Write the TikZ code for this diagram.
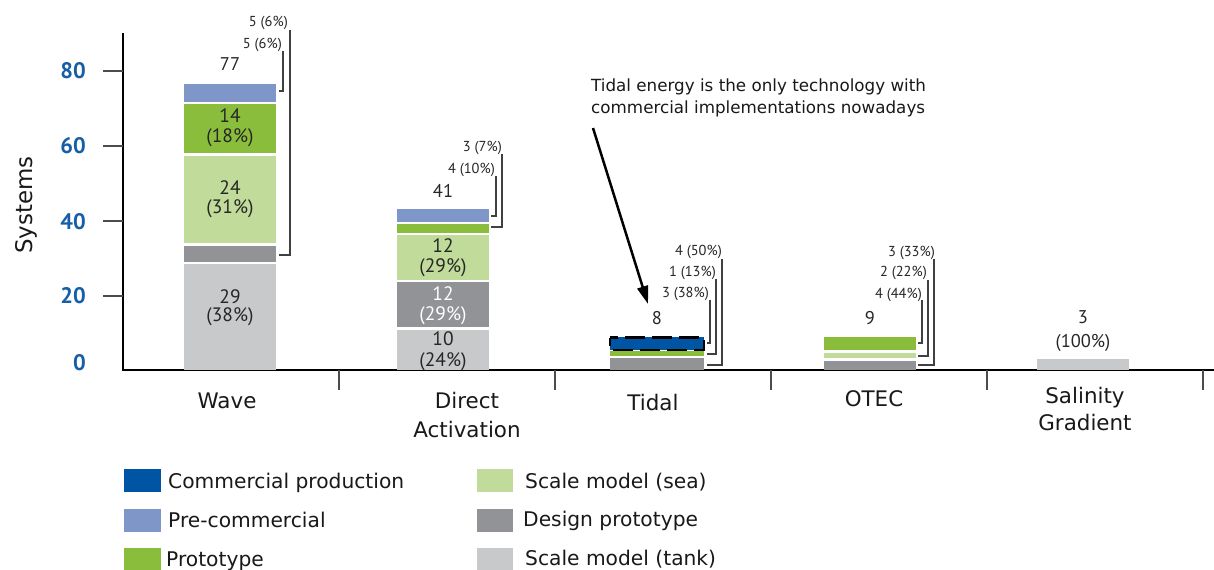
\documentclass[tikz,border=0pt]{standalone}
\usepackage{fontspec}
\setmainfont{DejaVu Sans}
\newfontfamily\dinf{PT Sans}
\usetikzlibrary{arrows.meta}
\definecolor{cComm}{RGB}{0,84,164}
\definecolor{cPre}{RGB}{127,150,200}
\definecolor{cProto}{RGB}{139,189,60}
\definecolor{cSea}{RGB}{192,219,154}
\definecolor{cDes}{RGB}{146,147,150}
\definecolor{cTank}{RGB}{200,201,203}
\definecolor{cTick}{RGB}{22,94,166}
\tikzset{
 num/.style={inner sep=0, anchor=base, font=\dinf\fontsize{19.5}{20}\selectfont, text=black!85},
 tot/.style={inner sep=0, anchor=base, font=\dinf\fontsize{18.5}{20}\selectfont, text=black!85},
 small/.style={inner sep=0, anchor=base east, font=\dinf\fontsize{14.5}{16}\selectfont, text=black!85},
 brk/.style={draw=black!75, line width=1.3bp},
 ylab/.style={inner sep=0, anchor=base east, font=\dinf\bfseries\fontsize{22.5}{24}\selectfont, text=cTick},
 xlab/.style={inner sep=0, anchor=base, font=\fontsize{21.5}{24}\selectfont, text=black!90},
 leg/.style={inner sep=0, anchor=base west, font=\fontsize{20.3}{22}\selectfont, text=black!90},
 ann/.style={inner sep=0, anchor=base west, font=\fontsize{16.8}{20}\selectfont, text=black!90},
 axis/.style={draw=black, line width=1.5bp},
 tickm/.style={draw=black!70, line width=1.5bp},
}
\begin{document}
\begin{tikzpicture}[x=1bp,y=-1bp]
\useasboundingbox (0,0) rectangle (1214,570);
\fill[white] (0,0) rectangle (1214,570);

% ---------- axes ----------
\draw[axis] (123,33) -- (123,370) -- (1214,370);
\foreach \yy in {71,146,221,296} \draw[tickm] (103,\yy) -- (123,\yy);
\foreach \xx in {339,555,771,987,1203} \draw[tickm] (\xx,370) -- (\xx,390);
\node[ylab] (y80) at (86,79) {80};
\node[ylab] (y60) at (86,154) {60};
\node[ylab] (y40) at (86,230) {40};
\node[ylab] (y20) at (86,304) {20};
\node[ylab] (y0) at (86,370) {0};
\node[inner sep=0, anchor=base, rotate=90, font=\fontsize{23}{24}\selectfont, text=black!90] (ytitle) at (32,205) {Systems};

% ---------- Wave ----------
\fill[cTank]  (184,264.3) rectangle (276,370);
\fill[cDes]   (184,246) rectangle (276,261.7);
\fill[cSea]   (184,155.7) rectangle (276,243.3);
\fill[cProto] (184,104) rectangle (276,153.3);
\fill[cPre]   (184,84) rectangle (276,101.7);
\node[num] (w14a) at (230,123) {14};
\node[num] (w14b) at (230,143) {(18\%)};
\node[num] (w24a) at (230,195) {24};
\node[num] (w24b) at (230,214) {(31\%)};
\node[num] (w29a) at (230,304) {29};
\node[num] (w29b) at (230,322) {(38\%)};
\node[tot] (w77) at (230,71) {77};
\node[small] (wl1) at (288,26.7) {5 (6\%)};
\node[small] (wl2) at (282,48.3) {5 (6\%)};
\draw[brk] (290,30) |- (279,255);
\draw[brk] (283,51) |- (279,91);

% ---------- Direct Activation ----------
\fill[cTank]  (397,330) rectangle (489,370);
\fill[cDes]   (397,282.3) rectangle (489,327.3);
\fill[cSea]   (397,235) rectangle (489,280);
\fill[cProto] (397,224) rectangle (489,232.7);
\fill[cPre]   (397,209) rectangle (489,221.7);
\node[num] (d12a) at (443,253) {12};
\node[num] (d12b) at (443,273) {(29\%)};
\node[num, text=white] (d12c) at (443,300.7) {12};
\node[num, text=white] (d12d) at (443,321) {(29\%)};
\node[num] (d10a) at (443,346) {10};
\node[num] (d10b) at (443,366) {(24\%)};
\node[tot] (d41) at (443,197.3) {41};
\node[small] (dl1) at (502,151.7) {3 (7\%)};
\node[small] (dl2) at (495,173.3) {4 (10\%)};
\draw[brk] (502,154) |- (491,227);
\draw[brk] (496,176) |- (491,216);

% ---------- Tidal ----------
\fill[cDes]   (610,358.3) rectangle (704,370);
\fill[cProto] (610,350.7) rectangle (704,355.7);
\fill[cComm]  (610,337.3) rectangle (704,350);
\draw[black, line width=2.8bp, dash pattern=on 20bp off 7bp, dash phase=12bp] (610,337.8) rectangle (704,350);
\node[tot] (t8) at (657,325) {8};
\node[small] (tl1) at (722,256) {4 (50\%)};
\node[small] (tl2) at (716,276.7) {1 (13\%)};
\node[small] (tl3) at (709,297.7) {3 (38\%)};
\draw[brk] (722,259) |- (707,365);
\draw[brk] (716,279) |- (707,354);
\draw[brk] (710,300) |- (707,343);

% ---------- OTEC ----------
\fill[cDes]   (824,361) rectangle (916,370);
\fill[cSea]   (824,352.7) rectangle (916,358);
\fill[cProto] (824,337) rectangle (916,350);
\node[tot] (o9) at (870,324.3) {9};
\node[small] (ol1) at (935,256.7) {3 (33\%)};
\node[small] (ol2) at (927,276.7) {2 (22\%)};
\node[small] (ol3) at (922,298.3) {4 (44\%)};
\draw[brk] (934,259) |- (918,365);
\draw[brk] (928,280) |- (918,356);
\draw[brk] (922,300) |- (918,343);

% ---------- Salinity ----------
\fill[cTank] (1037,359) rectangle (1129,370);
\node[tot] (s3) at (1083,323.3) {3};
\node[tot] (s100) at (1083,347.3) {(100\%)};

% ---------- category labels ----------
\node[xlab] (cw) at (227,408) {Wave};
\node[xlab] (cd1) at (467,408) {Direct};
\node[xlab] (cd2) at (467,437) {Activation};
\node[xlab] (ct) at (653,410) {Tidal};
\node[xlab] (co) at (874,406) {OTEC};
\node[xlab] (cs1) at (1085,403) {Salinity};
\node[xlab] (cs2) at (1085,430) {Gradient};

% ---------- annotation ----------
\node[ann] (an1) at (591,92) {Tidal energy is the only technology with};
\node[ann] (an2) at (591,113.3) {commercial implementations nowadays};
\coordinate (arS) at (593,128);
\coordinate (arE) at (648,304);
\draw[line width=2.5bp, -{Triangle[length=18bp,width=11bp]}] (arS) -- (arE);

% ---------- legend ----------
\fill[cComm]  (124,469) rectangle (161,492);
\fill[cPre]   (124,509) rectangle (161,532);
\fill[cProto] (124,548) rectangle (161,571);
\fill[cSea]   (477,469) rectangle (513,492);
\fill[cDes]   (477,509) rectangle (513,532);
\fill[cTank]  (477,548) rectangle (513,571);
\node[leg] (lg1) at (168,488) {Commercial production};
\node[leg] (lg2) at (168,527) {Pre-commercial};
\node[leg] (lg3) at (166,566) {Prototype};
\node[leg] (lg4) at (525,488) {Scale model (sea)};
\node[leg] (lg5) at (523,526) {Design prototype};
\node[leg] (lg6) at (525,565) {Scale model (tank)};
\end{tikzpicture}
\end{document}
